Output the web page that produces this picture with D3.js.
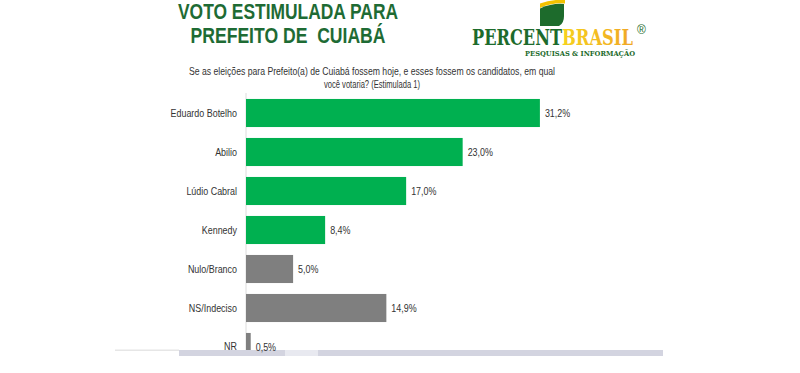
<!DOCTYPE html>
<html><head><meta charset="utf-8">
<script src="https://cdn.jsdelivr.net/npm/d3@7"></script>
<style>
html,body{margin:0;padding:0;background:#fff;}
svg{display:block;font-family:"Liberation Sans",Arial,sans-serif;}
text{white-space:pre;}
</style></head>
<body>
<svg id="chart" width="800" height="373"></svg>
<script>
const categories = ["Eduardo Botelho","Abilio","Lúdio Cabral","Kennedy","Nulo/Branco","NS/Indeciso","NR"];
const values = [31.2, 23.0, 17.0, 8.4, 5.0, 14.9, 0.5];
const valueLabels = ["31,2%","23,0%","17,0%","8,4%","5,0%","14,9%","0,5%"];
const barColors = ["#00b050","#00b050","#00b050","#00b050","#7f7f7f","#7f7f7f","#7f7f7f"];
const titleLines = ["VOTO ESTIMULADA PARA","PREFEITO DE  CUIABÁ"];
const subtitleLines = ["Se as eleições para Prefeito(a) de Cuiabá fossem hoje, e esses fossem os candidatos, em qual","você votaria? (Estimulada 1)"];

const svg = d3.select("#chart");
const defs = svg.append("defs");
const grad = defs.append("linearGradient").attr("id","brasilGrad").attr("x1","0").attr("x2","1").attr("y1","0").attr("y2","0");
grad.append("stop").attr("offset","0%").attr("stop-color","#f6d21e");
grad.append("stop").attr("offset","100%").attr("stop-color","#f0a626");
defs.append("clipPath").attr("id","plotClip").append("rect").attr("x",0).attr("y",90).attr("width",800).attr("height",260);

function condense(sel, f){
  sel.each(function(){
    const w = this.getComputedTextLength();
    d3.select(this).attr("textLength", w*f).attr("lengthAdjust","spacingAndGlyphs");
  });
}

// Title
const titleW = [220, 195];
titleLines.forEach((t,i)=>{
  svg.append("text").attr("x",288).attr("y",19+i*24).attr("text-anchor","middle")
    .attr("font-size",22).attr("font-weight","bold").attr("fill","#1e6b34")
    .attr("textLength",titleW[i]).attr("lengthAdjust","spacingAndGlyphs").text(t);
});

// Logo
const logo = svg.append("g");
logo.append("path").attr("d","M540,3.5 Q552,-1 565,0 L565,3.5 Q552,2.5 540,8 Z").attr("fill","#f2c200");
logo.append("path").attr("d","M540,8.5 Q552,3 564,4 L564,16 Q564,23.5 559,26 L540,26 Z").attr("fill","#1d6b2c");
const serif = "'DejaVu Serif','Liberation Serif',serif";
logo.append("text").attr("x",472).attr("y",45).attr("font-family",serif)
  .attr("font-size",23).attr("font-weight","bold").attr("fill","#1d6b2c")
  .attr("textLength",90).attr("lengthAdjust","spacingAndGlyphs").text("PERCENT");
logo.append("text").attr("x",562).attr("y",45).attr("font-family",serif)
  .attr("font-size",23).attr("font-weight","bold").attr("fill","url(#brasilGrad)")
  .attr("textLength",71).attr("lengthAdjust","spacingAndGlyphs").text("BRASIL");
logo.append("text").attr("x",637).attr("y",34).attr("font-size",12).attr("fill","#1d6b2c").text("®");
logo.append("text").attr("x",525).attr("y",55.5).attr("font-family",serif)
  .attr("font-size",8).attr("font-weight","bold").attr("fill","#1d6b2c")
  .attr("textLength",110).attr("lengthAdjust","spacingAndGlyphs").text("PESQUISAS & INFORMAÇÃO");

// Subtitle
const subW = [366, 96];
subtitleLines.forEach((t,i)=>{
  svg.append("text").attr("x",372).attr("y",75+i*12.5).attr("text-anchor","middle")
    .attr("font-size",10.5).attr("fill","#333")
    .attr("textLength",subW[i]).attr("lengthAdjust","spacingAndGlyphs").text(t);
});

// Scales
const x = d3.scaleLinear().domain([0, 35]).range([246, 246 + 35*9.42]);
const y = d3.scaleBand().domain(categories).range([93.5, 366.5]).paddingInner(0.28).paddingOuter(0.14);

// axis line
svg.append("line").attr("x1",246).attr("x2",246).attr("y1",93).attr("y2",350)
  .attr("stroke","#dcdcdc").attr("stroke-width",1);

// Bars
svg.append("g").attr("clip-path","url(#plotClip)")
  .selectAll("rect.bar").data(categories).join("rect").attr("class","bar")
  .attr("x",x(0)).attr("y",d=>y(d)).attr("height",y.bandwidth())
  .attr("width",(d,i)=>x(values[i])-x(0)).attr("fill",(d,i)=>barColors[i]);

// bottom band
svg.append("rect").attr("x",115).attr("y",349.5).attr("width",64).attr("height",1.5).attr("fill","#e6e6e6");
svg.append("rect").attr("x",179).attr("y",350).attr("width",484).attr("height",6).attr("fill","#d3d4e0");
svg.append("rect").attr("x",285).attr("y",350).attr("width",33).attr("height",6).attr("fill","#e8e9f0");

// Category labels
const cl = svg.selectAll("text.cat").data(categories).join("text").attr("class","cat")
  .attr("x",237).attr("y",(d,i)=>i===6 ? 350 : y(d)+y.bandwidth()/2+4).attr("text-anchor","end")
  .attr("font-size",10.5).attr("fill","#333").text(d=>d);
condense(cl, 0.85);

// Value labels
const vl = svg.selectAll("text.val").data(categories).join("text").attr("class","val")
  .attr("x",(d,i)=>x(values[i])+5).attr("y",(d,i)=>i===6 ? 351 : y(d)+y.bandwidth()/2+4)
  .attr("font-size",10.5).attr("fill","#333").text((d,i)=>valueLabels[i]);
condense(vl, 0.85);
</script>
</body></html>
